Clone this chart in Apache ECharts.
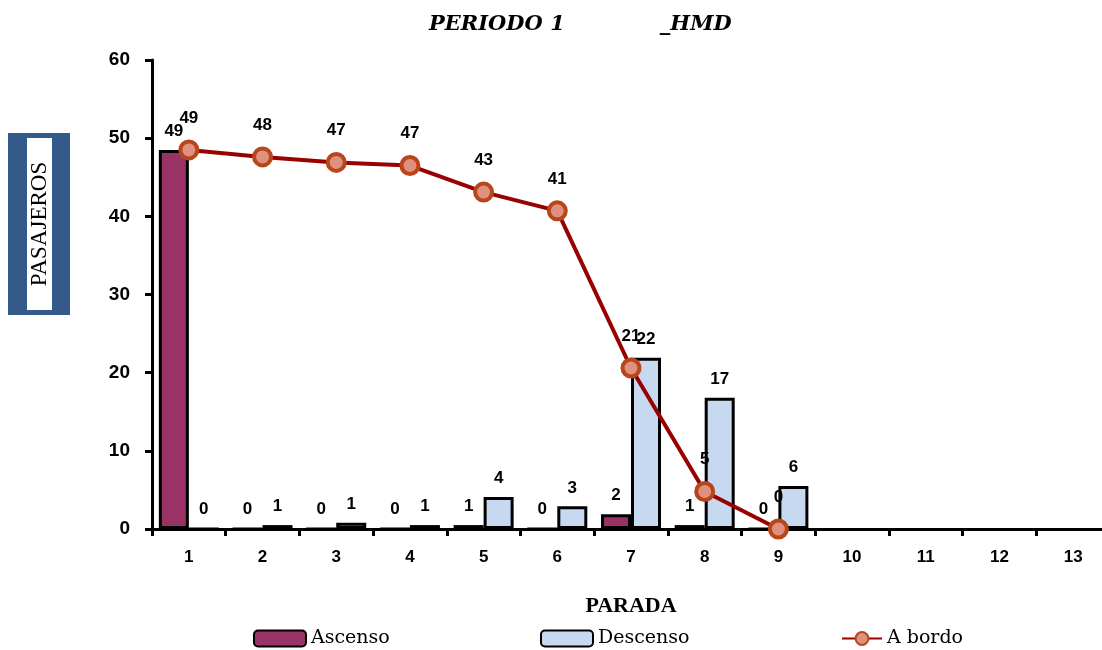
<!DOCTYPE html>
<html>
<head>
<meta charset="utf-8">
<script src="https://cdn.jsdelivr.net/npm/echarts@6/dist/echarts.min.js"></script>
<style>html,body{margin:0;padding:0;background:#fff;overflow:hidden;}#c{width:1110px;height:650px;}</style>
</head>
<body>
<div id="c"></div>
<script>
const categories = ['1','2','3','4','5','6','7','8','9','10','11','12','13'];
const ascenso  = [48.5, 0, 0, 0, 0.5, 0, 1.9, 0.5, 0, null, null, null, null];
const descenso = [0, 0.5, 0.8, 0.5, 4.1, 2.9, 21.9, 16.8, 5.5, null, null, null, null];
const aBordo   = [48.5, 47.6, 46.9, 46.5, 43.1, 40.7, 20.6, 4.8, 0, null, null, null, null];
const yTicks = [0, 10, 20, 30, 40, 50, 60];

const numFont = {fontFamily: 'Liberation Sans', fontWeight: 'bold', fontSize: 17, color: '#000'};
const fmt = p => (p.value == null ? '' : String(Math.round(p.value)));
const legendText = {fontFamily: 'DejaVu Serif', fontSize: 19, color: '#000'};

const chart = echarts.init(document.getElementById('c'));
chart.setOption({
  animation: false,
  title: {
    text: 'PERIODO 1             _HMD',
    left: 424, top: 9,
    textStyle: {fontFamily: 'DejaVu Serif', fontStyle: 'italic', fontWeight: 'bold', fontSize: 21, color: '#000'}
  },
  grid: {left: 152, top: 60, right: 0, bottom: 121, containLabel: false},
  legend: [
    {left: 248, top: 624, itemWidth: 52, itemHeight: 16, textStyle: legendText, data: ['Ascenso']},
    {left: 535, top: 624, itemWidth: 52, itemHeight: 16, textStyle: legendText, data: ['Descenso']},
    {left: 836, top: 624, itemWidth: 40, itemHeight: 16, textStyle: legendText, data: ['A bordo']}
  ],
  xAxis: {
    type: 'category', data: categories,
    name: 'PARADA', nameLocation: 'middle', nameGap: 66,
    nameTextStyle: {fontFamily: 'Liberation Serif', fontWeight: 'bold', fontSize: 22, color: '#000'},
    axisLine: {lineStyle: {color: '#000', width: 3}},
    axisTick: {show: true, length: 7, lineStyle: {color: '#000', width: 3}},
    axisLabel: Object.assign({margin: 20}, numFont)
  },
  yAxis: {
    type: 'value', min: 0, max: 60, interval: 10,
    axisLine: {show: true, lineStyle: {color: '#000', width: 3}},
    axisTick: {show: true, length: 7, lineStyle: {color: '#000', width: 3}},
    splitLine: {show: false},
    axisLabel: Object.assign({margin: 22, formatter: v => (yTicks.includes(v) ? String(v) : '')}, numFont, {fontSize: 19})
  },
  graphic: [
    {type: 'rect', shape: {x: 8, y: 133, width: 62, height: 182}, style: {fill: '#345a8a'}},
    {type: 'rect', shape: {x: 27, y: 138, width: 25, height: 172}, style: {fill: '#fff'}},
    {type: 'text', x: 40, y: 224, rotation: Math.PI / 2,
     style: {text: 'PASAJEROS', fontFamily: 'Liberation Serif', fontSize: 23, fill: '#000', align: 'center', verticalAlign: 'middle'}}
  ],
  series: [
    {
      name: 'Ascenso', type: 'bar', data: ascenso, barWidth: 30, barGap: '0%',
      itemStyle: {color: '#993366', borderColor: '#000', borderWidth: 3},
      label: Object.assign({show: true, position: 'top', distance: 10, formatter: fmt}, numFont)
    },
    {
      name: 'Descenso', type: 'bar', data: descenso, barWidth: 30, barGap: '0%',
      itemStyle: {color: '#c6d9f0', borderColor: '#000', borderWidth: 3},
      label: Object.assign({show: true, position: 'top', distance: 10, formatter: fmt}, numFont)
    },
    {
      name: 'A bordo', type: 'line', data: aBordo, z: 5,
      lineStyle: {color: '#990000', width: 4},
      symbol: 'circle', symbolSize: 17,
      itemStyle: {color: '#e0907e', borderColor: '#b8461a', borderWidth: 4},
      label: Object.assign({show: true, position: 'top', distance: 13, formatter: fmt}, numFont)
    }
  ]
});
</script>
</body>
</html>
